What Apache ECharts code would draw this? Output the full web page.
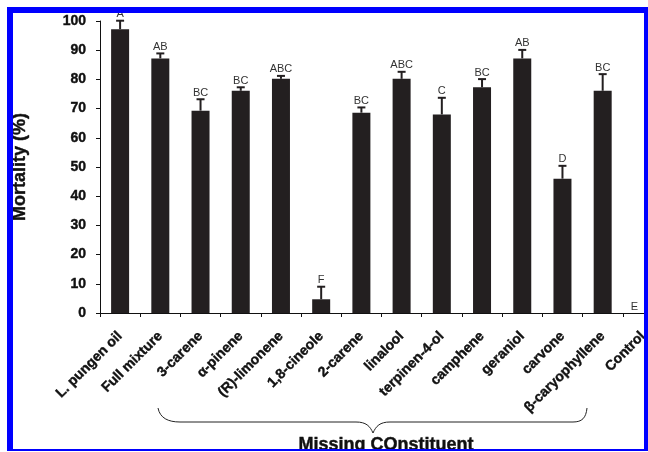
<!DOCTYPE html>
<html>
<head>
<meta charset="utf-8">
<script src="https://cdn.jsdelivr.net/npm/echarts@6/dist/echarts.min.js"></script>
<style>
  html, body { margin: 0; padding: 0; background: #fff; overflow: hidden; }
  /* the plot runs past the right frame edge, so the drawing surface is wider than the window */
  #chart { width: 680px; height: 452px; }
</style>
</head>
<body>
<div id="chart"></div>
<script>
// Mortality of each treatment (mean, %), upper error and significance letters
const categories = ['L. pungen oil', 'Full mixture', '3-carene', 'α-pinene', '(R)-limonene',
  '1,8-cineole', '2-carene', 'linalool', 'terpinen-4-ol', 'camphene', 'geraniol',
  'carvone', 'β-caryophyllene', 'Control'];
const mortality = [97.2, 87.2, 69.3, 76.1, 80.2, 4.7, 68.6, 80.2, 68.0, 77.3, 87.2, 46.0, 76.1, 0];
const errorUp = [2.9, 1.7, 3.9, 1.2, 1.0, 4.3, 1.8, 2.4, 5.7, 2.8, 2.9, 4.4, 5.7, 0];
const letters = ['A', 'AB', 'BC', 'BC', 'ABC', 'F', 'BC', 'ABC', 'C', 'BC', 'AB', 'D', 'BC', 'E'];
const yMin = 0, yMax = 100, yStep = 10;
const yTitle = 'Mortality (%)';
const groupTitle = 'Missing COnstituent';

const BAR = '#231f20';
const FRAME = '#0000ff';
const INK = '#111111';
const SANS = '"Liberation Sans", Arial, sans-serif';
const LETTER_FONT = '11px ' + SANS;

const measure = document.createElement('canvas').getContext('2d');
function textWidth(t, font) { measure.font = font; return measure.measureText(t).width; }

const chart = echarts.init(document.getElementById('chart'), null, { renderer: 'canvas' });

// Letters must stay inside the framed area on the right
const rightLimit = 640;

const braceStyle = { fill: null, stroke: '#222', lineWidth: 1 };

chart.setOption({
  backgroundColor: '#ffffff',
  animation: false,
  grid: { left: 100, top: 21, width: 563, height: 292, containLabel: false, outerBoundsMode: 'none' },
  xAxis: {
    type: 'category',
    data: categories,
    axisLine: { show: true, lineStyle: { color: INK, width: 1 } },
    axisTick: { show: true, length: 4, lineStyle: { color: INK, width: 1 } },
    axisLabel: {
      interval: 0, rotate: 45, margin: 21,
      color: INK, fontWeight: 'bold', fontSize: 14, fontFamily: SANS,
      textBorderColor: INK, textBorderWidth: 0.4
    },
    splitLine: { show: false }
  },
  yAxis: {
    type: 'value',
    min: yMin, max: yMax, interval: yStep,
    name: yTitle, nameLocation: 'middle', nameGap: 71, nameRotate: 90,
    nameTextStyle: {
      color: INK, fontWeight: 'bold', fontSize: 18, fontFamily: SANS,
      textBorderColor: INK, textBorderWidth: 0.4
    },
    axisLine: { show: true, lineStyle: { color: INK, width: 1 } },
    axisTick: { show: true, length: 4, lineStyle: { color: INK, width: 1 } },
    axisLabel: {
      margin: 14, color: INK, fontWeight: 'bold', fontSize: 14, fontFamily: SANS,
      textBorderColor: INK, textBorderWidth: 0.4
    },
    splitLine: { show: false }
  },
  series: [
    {
      type: 'bar',
      data: mortality,
      barWidth: 18,
      itemStyle: { color: BAR },
      z: 2
    },
    {
      type: 'custom',
      data: categories.map((c, i) => [i, mortality[i], errorUp[i]]),
      encode: { x: 0, y: 1 },
      z: 3,
      renderItem: function (params, api) {
        const i = api.value(0);
        const base = api.coord([i, api.value(1)]);
        const top = api.coord([i, api.value(1) + api.value(2)]);
        const children = [];
        if (api.value(2) > 0) {
          children.push({ type: 'line', shape: { x1: base[0], y1: base[1], x2: top[0], y2: top[1] },
            style: { stroke: BAR, lineWidth: 2 } });
          children.push({ type: 'line', shape: { x1: top[0] - 4, y1: top[1], x2: top[0] + 4, y2: top[1] },
            style: { stroke: BAR, lineWidth: 2 } });
        }
        const label = letters[i];
        const w = textWidth(label, LETTER_FONT);
        let lx = top[0];
        if (lx + w / 2 > rightLimit - 2) lx = rightLimit - 2 - w / 2;
        children.push({ type: 'text', x: lx, y: top[1] - 1,
          style: { text: label, align: 'center', verticalAlign: 'bottom', font: LETTER_FONT, fill: '#333' } });
        return { type: 'group', children: children };
      }
    }
  ],
  graphic: [
    // brace grouping the single-constituent omissions
    { type: 'bezierCurve', z: 10, style: braceStyle,
      shape: { x1: 158, y1: 408, cpx1: 160, cpy1: 418, cpx2: 168, cpy2: 422, x2: 180, y2: 422 } },
    { type: 'line', z: 10, style: braceStyle, shape: { x1: 180, y1: 422, x2: 356, y2: 422 } },
    { type: 'bezierCurve', z: 10, style: braceStyle,
      shape: { x1: 356, y1: 422, cpx1: 366, cpy1: 422, cpx2: 370, cpy2: 426, x2: 373, y2: 433 } },
    { type: 'bezierCurve', z: 10, style: braceStyle,
      shape: { x1: 373, y1: 433, cpx1: 376, cpy1: 426, cpx2: 380, cpy2: 422, x2: 390, y2: 422 } },
    { type: 'line', z: 10, style: braceStyle, shape: { x1: 390, y1: 422, x2: 573, y2: 422 } },
    { type: 'bezierCurve', z: 10, style: braceStyle,
      shape: { x1: 573, y1: 422, cpx1: 582, cpy1: 422, cpx2: 586, cpy2: 418, x2: 587, y2: 408 } },
    {
      type: 'text', z: 10, x: 386, y: 436,
      style: { text: groupTitle, align: 'center', verticalAlign: 'top',
        font: 'bold 18px ' + SANS, fill: INK, stroke: INK, lineWidth: 0.4 }
    },
    // blue frame
    { type: 'rect', z: 100, shape: { x: 7, y: 7, width: 641, height: 6 }, style: { fill: FRAME } },
    { type: 'rect', z: 100, shape: { x: 7, y: 7, width: 6, height: 444 }, style: { fill: FRAME } },
    { type: 'rect', z: 100, shape: { x: 644, y: 7, width: 4, height: 444 }, style: { fill: FRAME } },
    { type: 'rect', z: 100, shape: { x: 7, y: 449, width: 641, height: 2 }, style: { fill: FRAME } },
    { type: 'rect', z: 100, shape: { x: 0, y: 451, width: 680, height: 1 }, style: { fill: '#ffffff' } },
    { type: 'rect', z: 100, shape: { x: 648, y: 0, width: 32, height: 452 }, style: { fill: '#ffffff' } }
  ]
});
</script>
</body>
</html>
